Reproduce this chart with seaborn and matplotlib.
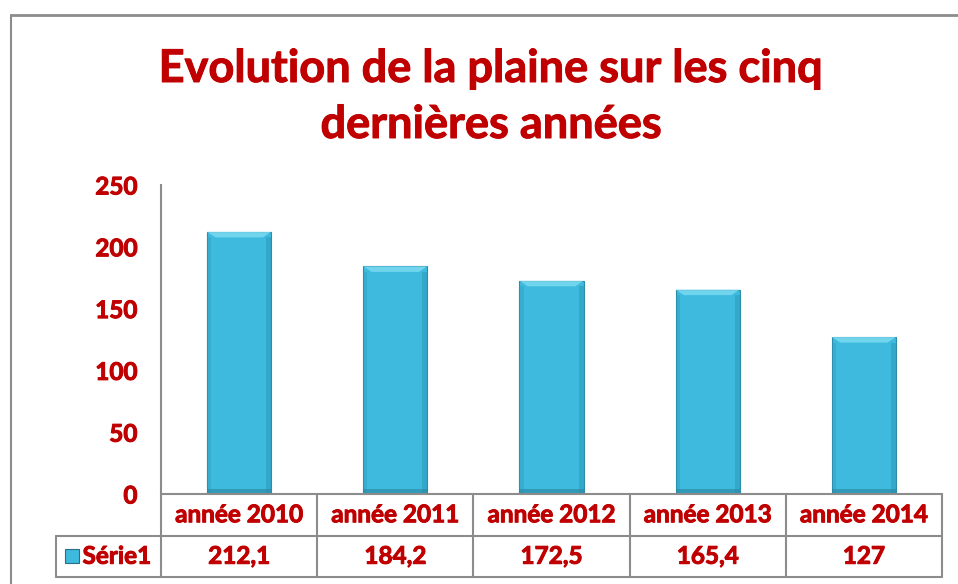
import numpy as np
import pandas as pd
import matplotlib.pyplot as plt
import matplotlib.patheffects as pe
import seaborn as sns
from matplotlib.patches import Polygon, Rectangle
from matplotlib.lines import Line2D

# data
years = ['année 2010', 'année 2011', 'année 2012', 'année 2013', 'année 2014']
values = [212.1, 184.2, 172.5, 165.4, 127]
value_labels = ['212,1', '184,2', '172,5', '165,4', '127']
series_name = 'Série1'
title_lines = ['Evolution de la plaine sur les cinq', 'dernières années']

red = '#C00000'
bar_col = '#3DBADD'
grid_col = '#8C8C8C'

sns.set_theme(style='white')
plt.rcParams['font.family'] = ['Lato', 'DejaVu Sans']

# a light stroke to make Lato Bold look closer to the heavy Calibri bold
bold_fx = [pe.withStroke(linewidth=0.7, foreground=red)]

W, H = 958, 584
fig = plt.figure(figsize=(W / 100, H / 100), dpi=100)

# outer chart frame (cut on the top / right like the screenshot)
fig.add_artist(Line2D([11 / W, 11 / W], [0, 1 - 15 / H], color=grid_col, lw=1.5))
fig.add_artist(Line2D([11 / W, 1], [1 - 15 / H, 1 - 15 / H], color=grid_col, lw=2))

x0, x1 = 161, 942
y0, y1 = 494, 185
ax = fig.add_axes([x0 / W, 1 - y0 / H, (x1 - x0) / W, (y0 - y1) / H])

df = pd.DataFrame({'year': years, 'value': values})
sns.barplot(data=df, x='year', y='value', ax=ax, color=bar_col, width=0.41,
            saturation=1, edgecolor='#2B8DAA', linewidth=0.8)

ax.set_xlim(-0.5, len(years) - 0.5)
ax.set_ylim(0, 250)
ax.set_yticks(range(0, 251, 50))
ax.set_xticks([])
ax.set_xlabel('')
ax.set_ylabel('')
for s in ['top', 'right', 'bottom']:
    ax.spines[s].set_visible(False)
ax.spines['left'].set_color(grid_col)
ax.spines['left'].set_linewidth(1.5)
ax.tick_params(axis='y', length=0, pad=17, labelsize=17.5, labelcolor=red)
for lab in ax.get_yticklabels():
    lab.set_fontweight('bold')
    lab.set_path_effects(bold_fx)

# bevel effect on each bar
for p in ax.patches:
    bx, bw, bh = p.get_x(), p.get_width(), p.get_height()
    dx = bw * 0.13
    dy = 250 * 0.018
    ax.add_patch(Polygon([[bx, bh], [bx + bw, bh], [bx + bw - dx, bh - dy], [bx + dx, bh - dy]],
                         closed=True, fc='#7FDCF2', ec='none', alpha=0.8))
    ax.add_patch(Rectangle((bx + bw - dx * 0.6, 0), dx * 0.6, bh - dy, fc='#2C97B7', ec='none', alpha=0.5))
    ax.add_patch(Rectangle((bx, 0), dx * 0.5, bh - dy, fc='#2C97B7', ec='none', alpha=0.35))
    ax.add_patch(Rectangle((bx, 0), bw, 250 * 0.015, fc='#2A86A2', ec='none', alpha=0.6))

# data table under the plot
tr = ax.get_xaxis_transform()
row_h = 41.5 / (y0 - y1)
lkw = dict(color=grid_col, lw=1.5, transform=tr, clip_on=False)
left_x = -0.5 - (x0 - 56) / ((x1 - x0) / len(years))
n = len(years)
ax.add_line(Line2D([-0.5, n - 0.5], [0, 0], **lkw))
ax.add_line(Line2D([left_x, n - 0.5], [-row_h, -row_h], **lkw))
ax.add_line(Line2D([left_x, n - 0.5], [-2 * row_h, -2 * row_h], **lkw))
ax.add_line(Line2D([left_x, left_x], [-row_h, -2 * row_h], **lkw))
for i in range(n + 1):
    ax.add_line(Line2D([i - 0.5, i - 0.5], [0, -2 * row_h], **lkw))

tkw = dict(transform=tr, ha='center', va='center', color=red, fontsize=17.5,
           fontweight='bold', clip_on=False, path_effects=bold_fx)
for i, (yr, v) in enumerate(zip(years, value_labels)):
    ax.text(i, -0.5 * row_h, yr, **tkw)
    ax.text(i, -1.5 * row_h, v, **tkw)

# legend key + series name
key_w = 0.085
kx = left_x + 0.06
ax.add_patch(Rectangle((kx, -1.5 * row_h - 0.022), key_w, 0.044, transform=tr, clip_on=False,
                       fc=bar_col, ec='#2B6F86', lw=0.8))
ax.text(kx + key_w + 0.025, -1.5 * row_h, series_name, transform=tr, ha='left', va='center',
        color=red, fontsize=17.5, fontweight='bold', clip_on=False, path_effects=bold_fx)

# two-line title, each line on its own baseline
for line, base in zip(title_lines, [82, 138]):
    fig.text(491 / W, 1 - base / H, line, ha='center', va='baseline', color=red,
             fontsize=32.5, fontweight='bold', path_effects=bold_fx)

fig.savefig('out.png', dpi=100, facecolor='white')
